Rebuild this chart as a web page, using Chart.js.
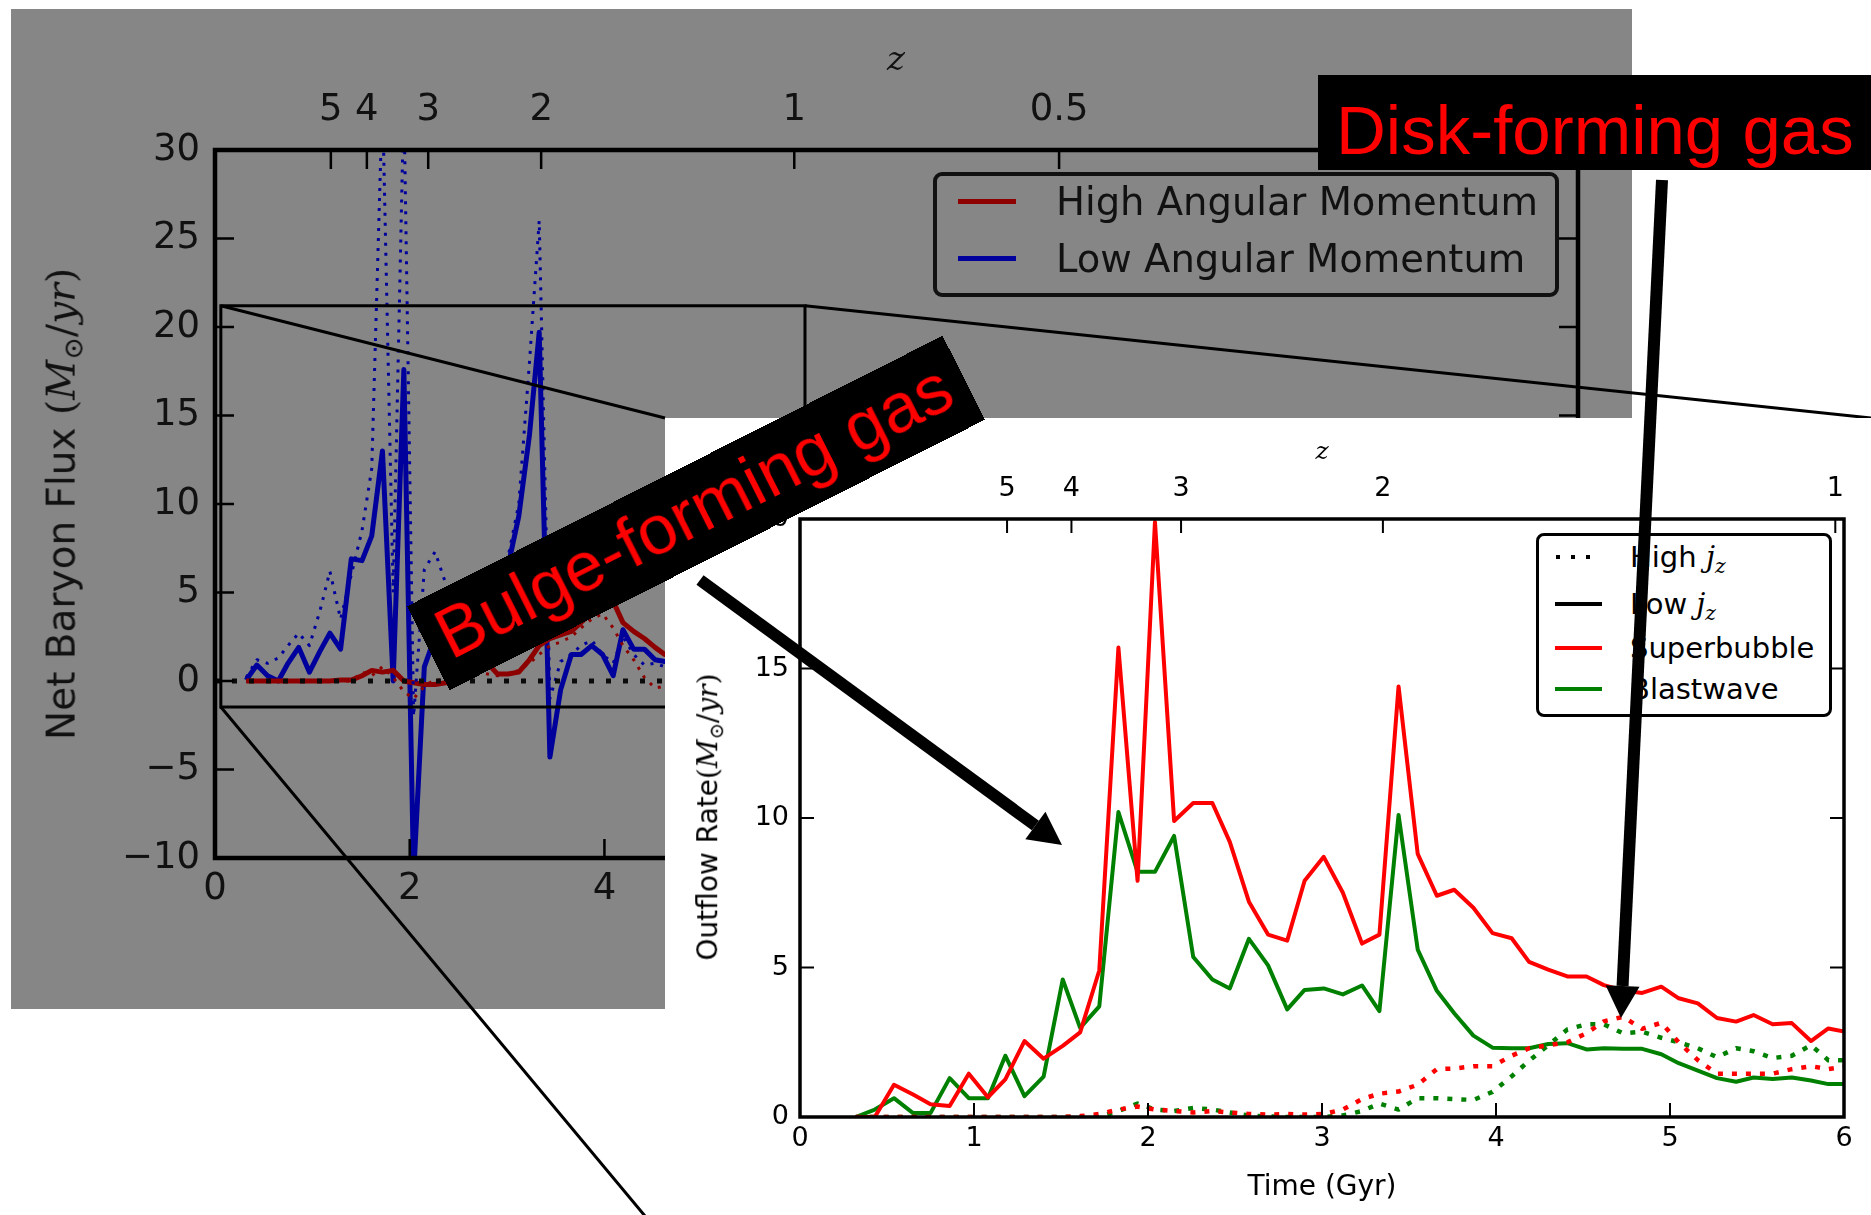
<!DOCTYPE html>
<html>
<head>
<meta charset="utf-8">
<script src="https://cdn.jsdelivr.net/npm/chart.js@4.4.1/dist/chart.umd.min.js"></script>
<style>
  html, body { margin: 0; padding: 0; }
  body { width: 1871px; height: 1215px; position: relative; overflow: hidden; background: #fff;
         font-family: "DejaVu Sans", sans-serif; }
  .gray { position: absolute; background: #868686; z-index: 0; }
  canvas { position: absolute; }
  #big { left: 0; top: 0; z-index: 1; }
  #inset { left: 665px; top: 418px; z-index: 3; background: #fff; }
  .txt { position: absolute; white-space: nowrap; line-height: 1.2; }
  .vt { transform: translate(-50%, -50%) rotate(-90deg); }
  .ct { transform: translate(-50%, -50%); }
  .math { font-family: "DejaVu Serif", serif; }
  .math i { font-style: italic; }
  .math sub { font-size: 0.7em; vertical-align: -0.3em; line-height: 0; }
  .legend { position: absolute; box-sizing: border-box; border-style: solid; }
  .legend .ln { position: absolute; }
  .legend .lt { position: absolute; white-space: nowrap; }
  .dot { position: absolute; width: 4px; height: 4px; background: #000; }
  .banner { position: absolute; background: #000; color: #ff0000; white-space: nowrap; overflow: hidden;
            font-family: "Liberation Sans", Arial, sans-serif; box-sizing: border-box; z-index: 5; }
  #arrows { position: absolute; left: 0; top: 0; z-index: 6; }
</style>
</head>
<body>

<div class="gray" style="left:11px; top:9px; width:1621px; height:409px;"></div>
<div class="gray" style="left:11px; top:418px; width:654px; height:591px;"></div>

<canvas id="big" width="1871" height="1215"></canvas>

<!-- titles and legend of the net flux panel -->
<div class="txt vt" style="left:62px; top:504px; font-size:39px; color:#111; z-index:2;">Net Baryon Flux <span class="math">(<i>M</i><sub>⊙</sub>/<i>yr</i>)</span></div>
<div class="txt ct math" style="left:896px; top:58px; font-size:34px; color:#111; z-index:2;"><i>z</i></div>
<div class="legend" style="left:933px; top:172px; width:626px; height:125px; border-width:4px; border-color:#111; border-radius:9px; z-index:2;">
  <div class="ln" style="left:21px; top:23px; width:58px; height:5px; background:#8e0000;"></div>
  <div class="lt" style="left:119px; top:4px; line-height:44px; font-size:38.5px; color:#111;">High Angular Momentum</div>
  <div class="ln" style="left:21px; top:80px; width:58px; height:5px; background:#00009c;"></div>
  <div class="lt" style="left:119px; top:61px; line-height:44px; font-size:38.5px; color:#111;">Low Angular Momentum</div>
</div>

<canvas id="inset" width="1206" height="797"></canvas>

<!-- titles and legend of the outflow panel -->
<div class="txt vt" style="left:708px; top:817px; font-size:28px; color:#000; z-index:4;">Outflow Rate<span class="math">(<i>M</i><sub>⊙</sub>/<i>yr</i>)</span></div>
<div class="txt ct" style="left:1322px; top:1186px; font-size:28px; color:#000; z-index:4;">Time (Gyr)</div>
<div class="txt ct math" style="left:1322px; top:451px; font-size:25px; color:#000; z-index:4;"><i>z</i></div>
<div class="legend" style="left:1536px; top:533px; width:296px; height:184px; border-width:3px; border-color:#000; border-radius:8px; background:#fff; z-index:4;">
  <div class="dot" style="left:17px; top:19px;"></div>
  <div class="dot" style="left:32px; top:19px;"></div>
  <div class="dot" style="left:47px; top:19px;"></div>
  <div class="lt" style="left:91px; top:2px; line-height:38px; font-size:29px;">High <span class="math"><i>j</i><sub><i>z</i></sub></span></div>
  <div class="ln" style="left:16px; top:66px; width:47px; height:4px; background:#000;"></div>
  <div class="lt" style="left:91px; top:49px; line-height:38px; font-size:29px;">Low <span class="math"><i>j</i><sub><i>z</i></sub></span></div>
  <div class="ln" style="left:16px; top:110px; width:47px; height:4px; background:#ff0000;"></div>
  <div class="lt" style="left:91px; top:93px; line-height:38px; font-size:29px;">Superbubble</div>
  <div class="ln" style="left:16px; top:151px; width:47px; height:4px; background:#008000;"></div>
  <div class="lt" style="left:91px; top:134px; line-height:38px; font-size:29px;">Blastwave</div>
</div>

<!-- annotations -->
<div class="banner" style="left:695.5px; top:512.5px; width:600px; height:94px; transform:translate(-50%,-50%) rotate(-26.8deg); font-size:70px; line-height:70px; padding:9px 0 0 15px;">Bulge-forming gas</div>
<div class="banner" style="left:1318px; top:75px; width:560px; height:95px; font-size:69px; line-height:69px; padding:21px 0 0 18px;">Disk-forming gas</div>
<svg id="arrows" width="1871" height="1215"></svg>

<script>
// sample times (Gyr), shared by both panels
const times = [0.32, 0.43, 0.54, 0.65, 0.75, 0.86, 0.97, 1.08, 1.18, 1.29,
               1.40, 1.51, 1.61, 1.72, 1.83, 1.94, 2.04, 2.15, 2.26, 2.37,
               2.47, 2.58, 2.69, 2.80, 2.90, 3.01, 3.12, 3.23, 3.33, 3.44,
               3.55, 3.66, 3.76, 3.87, 3.98, 4.09, 4.19, 4.30, 4.41, 4.52,
               4.62, 4.73, 4.84, 4.95, 5.05, 5.16, 5.27, 5.38, 5.48, 5.59,
               5.70, 5.81, 5.91, 6.02];

// redshift axis: time of each z tick and its label
const zTimes = [1.19, 1.56, 2.19, 3.35, 5.95, 8.67];
const zLabels = ['5', '4', '3', '2', '1', '0.5'];

// net baryon flux panel (first 42 samples)
const fluxTimes = times.slice(0, 42);
const highAngMom = [0, 0, 0, 0, 0, 0, 0, 0, 0, 0.05,
                    0.05, 0.3, 0.6, 0.5, 0.6, 0.0, -0.1, -0.2, -0.2, -0.1,
                    0.1, 0.4, 0.9, 1.0, 0.4, 0.4, 0.5, 1.2, 2.0, 2.4,
                    2.6, 2.8, 3.3, 3.9, 4.6, 4.5, 3.3, 2.8, 2.4, 1.9,
                    1.5, 1.3];
const highAngMomDotted = [0, 0, 0, 0, 0, 0, 0, 0, 0, 0,
                          0, 0.5, 0.3, 0.8, 0.2, -0.6, -1.0, -0.3, 0.1, 0.0,
                          0.2, 0.3, 0.5, 0.4, 0.3, 0.4, 0.6, 1.0, 1.5, 2.0,
                          2.2, 2.5, 3.0, 3.5, 3.8, 3.0, 2.0, 1.2, 0.2, -0.4,
                          -0.3, -0.2];
const lowAngMom = [0.05, 0.9, 0.3, 0.0, 1.0, 1.9, 0.5, 1.7, 2.7, 1.8,
                   6.9, 6.8, 8.2, 13.0, 0.0, 17.6, -11, 0.8, 2.5, 3.5,
                   3.0, 3.8, 4.2, 4.8, 5.5, 6.5, 9.3, 13.9, 19.7, -4.3,
                   -0.5, 1.5, 1.5, 2.0, 1.5, 0.3, 2.9, 1.8, 1.8, 1.2,
                   1.1, 1.0];
const lowAngMomDotted = [0.2, 1.2, 1.0, 1.3, 2.0, 2.7, 2.0, 4.0, 6.2, 3.5,
                         6.0, 8.5, 12.0, 33, 5.0, 33, -2.0, 6.3, 7.3, 5.5,
                         4.0, 4.0, 4.5, 5.0, 5.5, 7.0, 10.0, 18.0, 26.0, -1.0,
                         1.1, 1.5, 2.0, 2.3, 1.5, 1.0, 2.5, 1.5, 0.9, 1.0,
                         0.8, 0.8];
const zeroTimes = [0, 14];
const zeroValues = [0, 0];

// outflow rate panel
const superbubbleLow = [0, 0, 1.08, 0.75, 0.43, 0.37, 1.45, 0.66, 1.26, 2.54,
                        1.95, 2.38, 2.83, 4.9, 15.7, 7.9, 19.9, 9.9, 10.5, 10.5,
                        9.2, 7.2, 6.1, 5.9, 7.9, 8.7, 7.5, 5.8, 6.1, 14.4,
                        8.8, 7.4, 7.6, 7.0, 6.15, 5.98, 5.19, 4.93, 4.70, 4.70,
                        4.41, 4.23, 4.15, 4.36, 3.97, 3.80, 3.31, 3.19, 3.41, 3.10,
                        3.14, 2.54, 2.96, 2.84];
const superbubbleHigh = [0, 0, 0, 0, 0, 0, 0, 0, 0, 0,
                         0, 0, 0.03, 0.1, 0.25, 0.35, 0.25, 0.2, 0.15, 0.2,
                         0.15, 0.1, 0.08, 0.1, 0.08, 0.1, 0.25, 0.6, 0.78, 0.85,
                         1.08, 1.6, 1.62, 1.7, 1.7, 2.05, 2.3, 2.4, 2.5, 2.8,
                         3.2, 3.35, 2.95, 3.15, 2.5, 1.9, 1.45, 1.45, 1.45, 1.45,
                         1.6, 1.7, 1.6, 1.7];
const blastwaveLow = [0, 0.25, 0.63, 0.13, 0.13, 1.3, 0.63, 0.63, 2.05, 0.7,
                      1.35, 4.6, 2.98, 3.7, 10.2, 8.2, 8.2, 9.4, 5.35, 4.6,
                      4.3, 5.96, 5.07, 3.6, 4.25, 4.3, 4.1, 4.4, 3.54, 10.1,
                      5.6, 4.22, 3.47, 2.72, 2.32, 2.30, 2.30, 2.44, 2.47, 2.26,
                      2.30, 2.28, 2.28, 2.1, 1.8, 1.55, 1.3, 1.18, 1.32, 1.27,
                      1.32, 1.22, 1.1, 1.1];
const blastwaveHigh = [0, 0, 0, 0, 0, 0, 0, 0, 0, 0,
                       0, 0, 0, 0, 0.2, 0.45, 0.25, 0.2, 0.3, 0.25,
                       0.15, 0.05, 0.02, 0, 0, 0, 0.05, 0.2, 0.45, 0.25,
                       0.63, 0.63, 0.6, 0.57, 0.84, 1.36, 1.88, 2.4, 2.93, 3.1,
                       3.1, 2.8, 2.85, 2.65, 2.5, 2.3, 2.0, 2.3, 2.2, 1.97,
                       2.05, 2.4, 1.9, 1.9];

// region of the flux panel blown up in the outflow panel, and the page corners it links to
const zoomBox = { t0: 0.06, t1: 6.06, v0: -1.47, v1: 21.2 };
const insetCorners = { left: 665, top: 418, right: 1871, bottom: 1240 };

const series = (ts, vs) => ts.map((t, i) => ({ x: t, y: vs[i] }));
const minus = v => (v < 0 ? '\u2212' + Math.abs(v) : String(v));

// spines and inward ticks on all four sides, drawn above the lines
const frame = {
  id: 'frame',
  afterDatasetsDraw(chart, args, o) {
    const { ctx, chartArea: a, scales } = chart;
    ctx.save();
    ctx.strokeStyle = o.color;
    ctx.lineWidth = o.tickWidth;
    ctx.beginPath();
    for (const t of scales.y.ticks) {
      const py = scales.y.getPixelForValue(t.value);
      ctx.moveTo(a.left, py); ctx.lineTo(a.left + o.tickLen, py);
      ctx.moveTo(a.right, py); ctx.lineTo(a.right - o.tickLen, py);
    }
    for (const t of scales.x.ticks) {
      const px = scales.x.getPixelForValue(t.value);
      ctx.moveTo(px, a.bottom); ctx.lineTo(px, a.bottom - o.tickLen);
    }
    for (const t of scales.z.ticks) {
      const px = scales.z.getPixelForValue(t.value);
      ctx.moveTo(px, a.top); ctx.lineTo(px, a.top + o.tickLen);
    }
    ctx.stroke();
    ctx.lineWidth = o.spineWidth;
    ctx.strokeRect(a.left, a.top, a.right - a.left, a.bottom - a.top);
    ctx.restore();
  }
};

// outline of the zoomed region plus the connector lines
const zoomLines = {
  id: 'zoomLines',
  afterDatasetsDraw(chart) {
    const { ctx, scales: { x, y } } = chart;
    const l = x.getPixelForValue(zoomBox.t0), r = x.getPixelForValue(zoomBox.t1);
    const t = y.getPixelForValue(zoomBox.v1), b = y.getPixelForValue(zoomBox.v0);
    ctx.save();
    ctx.strokeStyle = '#000';
    ctx.lineWidth = 3;
    ctx.strokeRect(l, t, r - l, b - t);
    ctx.beginPath();
    ctx.moveTo(l, t); ctx.lineTo(insetCorners.left, insetCorners.top);
    ctx.moveTo(r, t); ctx.lineTo(insetCorners.right, insetCorners.top);
    ctx.moveTo(l, b); ctx.lineTo(insetCorners.left, insetCorners.bottom);
    ctx.stroke();
    ctx.restore();
  }
};

function axes(cfg) {
  const font = { family: 'DejaVu Sans', size: cfg.fontSize };
  const common = { grid: { display: false, drawTicks: false }, border: { display: false } };
  return {
    x: { ...common, type: 'linear', position: 'bottom', min: 0, max: cfg.tMax,
         afterFit: s => { s.height = cfg.bottomH; },
         ticks: { stepSize: cfg.tStep, padding: cfg.xPad, color: cfg.color, font, maxRotation: 0, autoSkip: false } },
    z: { ...common, type: 'linear', axis: 'x', position: 'top', min: 0, max: cfg.tMax,
         afterFit: s => { s.height = cfg.topH; },
         afterBuildTicks: s => { s.ticks = cfg.zTimes.map(v => ({ value: v })); },
         ticks: { padding: cfg.zPad, color: cfg.color, font, maxRotation: 0, autoSkip: false,
                  callback: (v, i) => cfg.zLabels[i] } },
    y: { ...common, type: 'linear', position: 'left', min: cfg.vMin, max: cfg.vMax,
         afterFit: s => { s.width = cfg.leftW; },
         ticks: { stepSize: 5, padding: cfg.yPad, color: cfg.color, font, callback: v => minus(v) } }
  };
}

const line = (data, color, width, dash) => ({
  data, borderColor: color, borderWidth: width, borderDash: dash || [],
  pointRadius: 0, tension: 0, fill: false, borderJoinStyle: 'round', borderCapStyle: 'butt'
});

new Chart(document.getElementById('big'), {
  type: 'line',
  data: {
    datasets: [
      line(series(zeroTimes, zeroValues), '#0a0a0a', 5, [5, 12]),
      line(series(fluxTimes, highAngMomDotted), '#8e0000', 3, [3, 7]),
      line(series(fluxTimes, lowAngMomDotted), '#00009c', 3, [3, 7]),
      line(series(fluxTimes, highAngMom), '#8e0000', 5),
      line(series(fluxTimes, lowAngMom), '#00009c', 5)
    ]
  },
  options: {
    responsive: false, devicePixelRatio: 1, animation: false, events: [],
    layout: { autoPadding: false, padding: { left: 0, top: 0, right: 293, bottom: 0 } },
    plugins: { legend: { display: false }, tooltip: { enabled: false },
               frame: { color: '#000', tickWidth: 2.5, tickLen: 19, spineWidth: 4.5 } },
    scales: axes({ fontSize: 37, color: '#111', tMax: 14, tStep: 2, vMin: -10, vMax: 30,
                   leftW: 215, bottomH: 357, topH: 150, xPad: 9, zPad: 17, yPad: 15,
                   zTimes, zLabels })
  },
  plugins: [frame, zoomLines]
});

new Chart(document.getElementById('inset'), {
  type: 'line',
  data: {
    datasets: [
      line(series(times, superbubbleLow), '#ff0000', 4),
      line(series(times, superbubbleHigh), '#ff0000', 4.5, [5, 9]),
      line(series(times, blastwaveLow), '#008000', 4),
      line(series(times, blastwaveHigh), '#008000', 4.5, [5, 9])
    ]
  },
  options: {
    responsive: false, devicePixelRatio: 1, animation: false, events: [],
    layout: { autoPadding: false, padding: { left: 0, top: 0, right: 27, bottom: 0 } },
    plugins: { legend: { display: false }, tooltip: { enabled: false },
               frame: { color: '#000', tickWidth: 2, tickLen: 14, spineWidth: 3.5 } },
    scales: axes({ fontSize: 27, color: '#000', tMax: 6, tStep: 1, vMin: 0, vMax: 20,
                   leftW: 135, bottomH: 98, topH: 101, xPad: 6, zPad: 14, yPad: 11,
                   zTimes: zTimes.slice(0, 5), zLabels: zLabels.slice(0, 5) })
  },
  plugins: [frame]
});

// thick annotation arrows
function arrow(svg, x0, y0, x1, y1, headLen, headHalf, width) {
  const len = Math.hypot(x1 - x0, y1 - y0);
  const ux = (x1 - x0) / len, uy = (y1 - y0) / len;
  const bx = x1 - ux * headLen, by = y1 - uy * headLen;
  const ns = 'http://www.w3.org/2000/svg';
  const shaft = document.createElementNS(ns, 'line');
  shaft.setAttribute('x1', x0); shaft.setAttribute('y1', y0);
  shaft.setAttribute('x2', bx); shaft.setAttribute('y2', by);
  shaft.setAttribute('stroke', '#000'); shaft.setAttribute('stroke-width', width);
  svg.appendChild(shaft);
  const head = document.createElementNS(ns, 'polygon');
  head.setAttribute('points', [
    [x1, y1], [bx - uy * headHalf, by + ux * headHalf], [bx + uy * headHalf, by - ux * headHalf]
  ].map(p => p.join(',')).join(' '));
  head.setAttribute('fill', '#000');
  svg.appendChild(head);
}
const svg = document.getElementById('arrows');
arrow(svg, 700, 580, 1062, 845, 33, 17, 12);
arrow(svg, 1662, 180, 1621, 1018, 32, 17, 12);
</script>
</body>
</html>
